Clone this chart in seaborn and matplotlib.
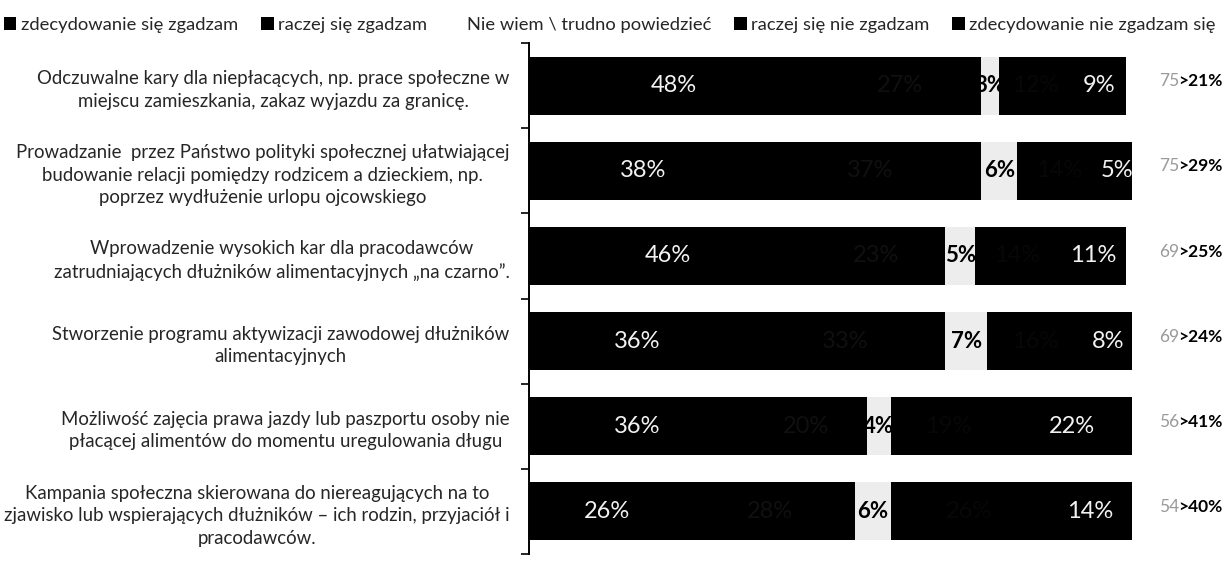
import matplotlib
matplotlib.use("Agg")
import matplotlib.pyplot as plt
import seaborn as sns
import numpy as np
import pandas as pd

categories = [
    "Odczuwalne kary dla niepłacących, np. prace społeczne w\nmiejscu zamieszkania, zakaz wyjazdu za granicę.",
    "Prowadzanie  przez Państwo polityki społecznej ułatwiającej\nbudowanie relacji pomiędzy rodzicem a dzieckiem, np.\npoprzez wydłużenie urlopu ojcowskiego",
    "Wprowadzenie wysokich kar dla pracodawców\nzatrudniających dłużników alimentacyjnych „na czarno”.",
    "Stworzenie programu aktywizacji zawodowej dłużników\nalimentacyjnych",
    "Możliwość zajęcia prawa jazdy lub paszportu osoby nie\npłacącej alimentów do momentu uregulowania długu",
    "Kampania społeczna skierowana do niereagujących na to\nzjawisko lub wspierających dłużników – ich rodzin, przyjaciół i\npracodawców.",
]
series_names = [
    "zdecydowanie się zgadzam",
    "raczej się zgadzam",
    "Nie wiem \\ trudno powiedzieć",
    "raczej się nie zgadzam",
    "zdecydowanie nie zgadzam się",
]
strong_agree = [48, 38, 46, 36, 36, 26]
rather_agree = [27, 37, 23, 33, 20, 28]
dont_know = [3, 6, 5, 7, 4, 6]
rather_disagree = [12, 14, 14, 16, 19, 26]
strong_disagree = [9, 5, 11, 8, 22, 14]
agree_totals = ["75", "75", "69", "69", "56", "54"]
disagree_totals = [">21%", ">29%", ">25%", ">24%", ">41%", ">40%"]

seg_colors = ["#000000", "#000000", "#ededed", "#000000", "#000000"]
label_colors = ["#f2f2f2", "#101010", "#000000", "#070707", "#f2f2f2"]

sns.set_style("white")
plt.rcParams["font.family"] = ["Lato", "DejaVu Sans"]

values = [strong_agree, rather_agree, dont_know, rather_disagree, strong_disagree]
vals = np.array(values, dtype=float)
cum = np.cumsum(vals, axis=0)

fig = plt.figure(figsize=(12.27, 5.76), dpi=100)
ax = fig.add_axes([529 / 1227, 1 - 554 / 576, (1132 - 529) / 1227, (554 - 43) / 576])

for i in reversed(range(len(series_names))):
    df = pd.DataFrame({"cat": categories, "val": cum[i]})
    sns.barplot(data=df, x="val", y="cat", color=seg_colors[i], orient="h",
                width=0.68, ax=ax, label=series_names[i], saturation=1,
                edgecolor="none", linewidth=0)

ax.set_xlim(0, 100)
ax.set_ylim(5.5, -0.5)
ax.set_xlabel("")
ax.set_ylabel("")
ax.set_xticks([])

# segment labels
for i in range(len(series_names)):
    for j in range(len(categories)):
        left = cum[i, j] - vals[i, j]
        cx = left + vals[i, j] / 2
        ax.text(cx, j, f"{int(vals[i, j])}%", ha="center", va="center",
                fontsize=16 if i == 2 else 17, color=label_colors[i],
                fontweight="bold" if i == 2 else "normal")

# right annotations
for j in range(len(categories)):
    ax.text(107.9, j - 0.05, agree_totals[j], ha="right", va="center", fontsize=12.5,
            color="#9a9a9a", clip_on=False)
    ax.text(107.7, j - 0.05, disagree_totals[j], ha="left", va="center", fontsize=12.5,
            color="#000000", fontweight="bold", clip_on=False)

# spines / ticks
for s in ["top", "right", "bottom"]:
    ax.spines[s].set_visible(False)
ax.spines["left"].set_color("black")
ax.spines["left"].set_linewidth(1.4)
ax.tick_params(axis="y", which="major", left=False, length=0, pad=14, labelsize=13.4)
ax.set_yticks(np.arange(-0.5, 6.0, 1.0), minor=True)
ax.tick_params(axis="y", which="minor", left=True, length=6, width=1.2,
               color="black", direction="out")
for lbl in ax.get_yticklabels():
    lbl.set_multialignment("center")
    lbl.set_linespacing(1.4)

# legend
handles, labels = ax.get_legend_handles_labels()
order = [labels.index(n) for n in series_names]
handles = [handles[k] for k in order]
labels = [labels[k] for k in order]
if ax.get_legend() is not None:
    ax.get_legend().remove()
leg = fig.legend(handles, labels, loc="center left", bbox_to_anchor=(0.0, 0.957),
                 ncol=5, frameon=False, fontsize=13.2, handlelength=0.7,
                 handleheight=0.7, handletextpad=0.25, columnspacing=1.22,
                 borderaxespad=0, borderpad=0.2)
leg.legend_handles[2].set_facecolor("white")

fig.savefig("out.png", dpi=100, facecolor="white")
